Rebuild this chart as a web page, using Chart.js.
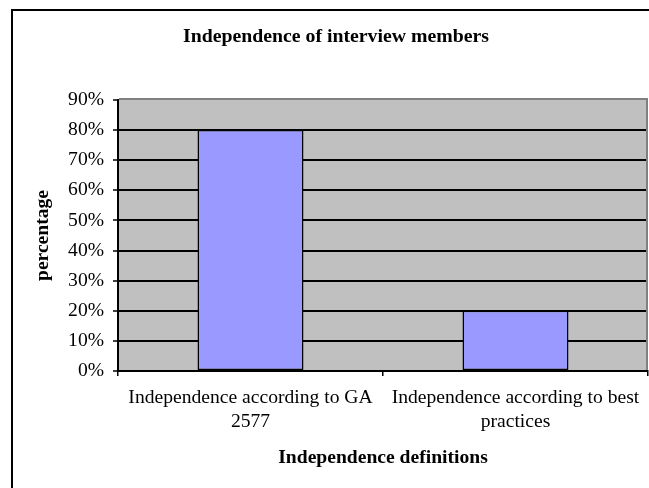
<!DOCTYPE html>
<html>
<head>
<meta charset="utf-8">
<script src="https://cdn.jsdelivr.net/npm/chart.js@4"></script>
<style>
  body { margin: 0; background: #fff; }
  canvas { display: block; }
</style>
</head>
<body>
<canvas id="indChart" width="649" height="488"></canvas>
<script>
// chart values
const categories = [
    ['Independence according to GA', '2577'],
    ['Independence according to best', 'practices']
];
const percentages = [80, 20];
const tickStep = 10;
const tickMax = 90;

const serif = "'Times New Roman', 'Liberation Serif', serif";

// gray plot area + outer frame + chart title
const frame = {
    id: 'frame',
    beforeDraw(chart) {
        const ctx = chart.ctx;
        const a = chart.chartArea;
        ctx.save();
        ctx.fillStyle = '#fff';
        ctx.fillRect(0, 0, chart.width, chart.height);
        ctx.fillStyle = '#c0c0c0';
        ctx.fillRect(a.left, a.top, a.right - a.left, a.bottom - a.top);
        ctx.restore();
    },
    afterDraw(chart) {
        const ctx = chart.ctx;
        const a = chart.chartArea;
        ctx.save();
        ctx.strokeStyle = '#808080';
        ctx.lineWidth = 2;
        ctx.beginPath();
        ctx.moveTo(a.left + 1, a.top - 1);
        ctx.lineTo(a.right - 1, a.top - 1);
        ctx.lineTo(a.right - 1, a.bottom - 1);
        ctx.stroke();
        ctx.strokeStyle = '#000';
        ctx.lineWidth = 2;
        ctx.strokeRect(12, 10, 800, 600);
        ctx.fillStyle = '#000';
        ctx.font = 'bold 19.8px ' + serif;
        ctx.textAlign = 'center';
        ctx.textBaseline = 'alphabetic';
        ctx.fillText('Independence of interview members', 336, 42);
        ctx.restore();
    }
};

new Chart(document.getElementById('indChart'), {
    type: 'bar',
    data: {
        labels: categories,
        datasets: [{
            label: 'Independence',
            data: percentages,
            backgroundColor: '#9999ff',
            borderColor: '#000',
            borderWidth: 1.5,
            borderSkipped: false,
            barPercentage: 0.4,
            categoryPercentage: 1
        }]
    },
    options: {
        responsive: false,
        animation: false,
        layout: { padding: { top: 100, right: 1, left: 0, bottom: 0 } },
        plugins: {
            legend: { display: false },
            tooltip: { enabled: false }
        },
        scales: {
            x: {
                offset: true,
                afterFit: s => { s.height = 117; },
                grid: { drawOnChartArea: false, drawTicks: true, tickLength: 5, color: '#000', lineWidth: 1.5 },
                border: { display: true, color: '#000', width: 2 },
                ticks: {
                    color: '#000',
                    padding: 9,
                    maxRotation: 0,
                    autoSkip: false,
                    font: { family: serif, size: 19.6, lineHeight: 1.27 }
                },
                title: {
                    display: true,
                    text: 'Independence definitions',
                    color: '#000',
                    padding: { top: 0, bottom: 18 },
                    font: { family: serif, size: 19.6, weight: 'bold', lineHeight: 1.2 }
                }
            },
            y: {
                min: 0,
                max: tickMax,
                afterFit: s => { s.width = 118; },
                grid: {
                    color: c => c.index === 9 ? 'rgba(0,0,0,0)' : '#000',
                    lineWidth: 2,
                    drawTicks: true,
                    tickLength: 5,
                    tickColor: '#000',
                    tickWidth: 1.5
                },
                border: { display: true, color: '#000', width: 2 },
                ticks: {
                    stepSize: tickStep,
                    color: '#000',
                    padding: 9,
                    callback: v => v + '%',
                    font: { family: serif, size: 19.6 }
                },
                title: {
                    display: true,
                    text: 'percentage',
                    color: '#000',
                    padding: { top: 31, bottom: 0 },
                    font: { family: serif, size: 19.6, weight: 'bold', lineHeight: 1.2 }
                }
            }
        }
    },
    plugins: [frame]
});
</script>
</body>
</html>
